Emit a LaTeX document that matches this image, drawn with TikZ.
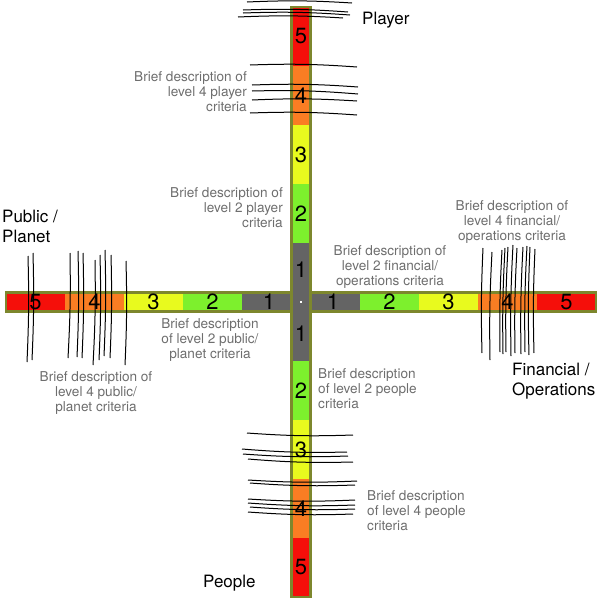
\documentclass[tikz,border=0pt]{standalone}
\usepackage{fontspec}
\setmainfont{TeX Gyre Heros}
\usetikzlibrary{positioning}
\definecolor{lvlred}{RGB}{245, 15, 10}
\definecolor{lvlorange}{RGB}{250, 125, 35}
\definecolor{lvlyellow}{RGB}{232, 250, 30}
\definecolor{lvlgreen}{RGB}{125, 240, 45}
\definecolor{lvlgrey}{RGB}{100, 100, 100}
\definecolor{barolive}{RGB}{125, 135, 45}
\definecolor{descgrey}{RGB}{110, 110, 110}

\tikzset{
  barframe/.style={draw=barolive, line width=2.2pt},
  lvlnum/.style={font=\fontsize{22}{22}\selectfont, inner sep=0pt},
  desc/.style={text=descgrey, font=\fontsize{13.6}{15.3}\selectfont, inner sep=0pt},
  axislabel/.style={font=\fontsize{17}{20}\selectfont, inner sep=0pt, align=left},
  scribble/.style={line width=1pt, black}
}

\begin{document}
\begin{tikzpicture}[x=1pt, y=-1pt]
  \useasboundingbox (0,0) rectangle (600,600);

  % horizontal bar: public/planet <-> financial/operations
  \foreach \n/\col in {1/lvlgrey, 2/lvlgreen, 3/lvlyellow, 4/lvlorange, 5/lvlred} {
    \fill[\col] ({301-59*\n},292.5) rectangle ({301-59*(\n-1)},311.5);
    \fill[\col] ({301+59*(\n-1)},292.5) rectangle ({301+59*\n},311.5);
  }
  \draw[barframe] (6,292.5) rectangle (596,311.5);

  % vertical bar: player <-> people
  \foreach \n/\col in {1/lvlgrey, 2/lvlgreen, 3/lvlyellow, 4/lvlorange, 5/lvlred} {
    \fill[\col] (291.5,{302-59*\n}) rectangle (310.5,{302-59*(\n-1)});
    \fill[\col] (291.5,{302+59*(\n-1)}) rectangle (310.5,{302+59*\n});
  }
  \draw[barframe] (291.5,7) rectangle (310.5,597);
  \fill[white] (300,301) rectangle (302,303);

  % level numbers
  \foreach \n/\d in {1/32, 2/88.5, 3/147.5, 4/206.5, 5/265.5} {
    \node[lvlnum] (left-\n) at ({301-\d},302) {\n};
    \node[lvlnum] (right-\n) at ({301+\d},302) {\n};
    \node[lvlnum] (top-\n) at (301,{302-\d}) {\n};
    \node[lvlnum] (bottom-\n) at (301,{302+\d}) {\n};
  }

  % scribbles across the player bar
  \foreach \xa/\ya/\xb/\yb in {247/2/352/3, 243/10/348/12, 243/13/350/15, 238/17/343/18,
      250/65/357/67, 252/85/358/87, 252/91/358/94, 252/100/357/101, 250/113/357/115} {
    \draw[scribble] (\xa,\ya) to[bend left=3] (\xb,\yb);
  }
  % scribbles across the people bar
  \foreach \xa/\ya/\xb/\yb in {247/433/353/435, 242/449/347/452, 243/454/348/456, 248/459/353/462,
      248/480/357/481, 250/483/355/485, 248/499/355/500, 248/503/355/505, 250/507/355/509, 248/512/353/514} {
    \draw[scribble] (\xa,\ya) to[bend right=3] (\xb,\yb);
  }
  % scribbles across the public/planet bar
  \foreach \xa/\ya/\xb/\yb in {28/256/27/362, 33/253/32/360, 70/253/68/358, 78/251/77/357, 83/253/82/358,
      95/260/93/365, 100/255/99/360, 105/250/104/356, 111/255/110/358, 126/261/125/365} {
    \draw[scribble] (\xa,\ya) to[bend left=2] (\xb,\yb);
  }
  % scribbles across the financial/operations bar
  \foreach \xa/\ya/\xb/\yb in {483/248/482/353, 492/252/490/360, 502/250/500/352, 505/248/503/354,
      508/247/506/352, 513/245/511/356, 517/248/515/353, 523/247/521/354, 527/246/525/352,
      530/247/529/355, 535/249/534/353} {
    \draw[scribble] (\xa,\ya) to[bend right=2] (\xb,\yb);
  }

  % axis names
  \node[axislabel, anchor=base west] (player) at (362,24) {Player};
  \node[axislabel, anchor=north west] (public) at (2,209.5) {Public /\\Planet};
  \node[axislabel, anchor=north west] (financial) at (512,362.5) {Financial /\\Operations};
  \node[axislabel, anchor=base west] (people) at (203,587) {People};

  % criteria descriptions
  \node[desc, align=right, anchor=north east] (player-four) at (247,71)
    {Brief description of\\level 4 player\\criteria};
  \node[desc, align=right, anchor=north east] (player-two) at (283,187)
    {Brief description of\\level 2 player\\criteria};
  \node[desc, align=center, anchor=north] (financial-four) at (512,200)
    {Brief description of\\level 4 financial/\\operations criteria};
  \node[desc, align=center, anchor=north] (financial-two) at (390,245)
    {Brief description of\\level 2 financial/\\operations criteria};
  \node[desc, align=center, anchor=north] (public-two) at (210,318)
    {Brief description\\of level 2 public/\\planet criteria};
  \node[desc, align=center, anchor=north] (public-four) at (96,371)
    {Brief description of\\level 4 public/\\planet criteria};
  \node[desc, align=left, anchor=north west] (people-two) at (318,368)
    {Brief description\\of level 2 people\\criteria};
  \node[desc, align=left, anchor=north west] (people-four) at (367,490)
    {Brief description\\of level 4 people\\criteria};
\end{tikzpicture}
\end{document}
